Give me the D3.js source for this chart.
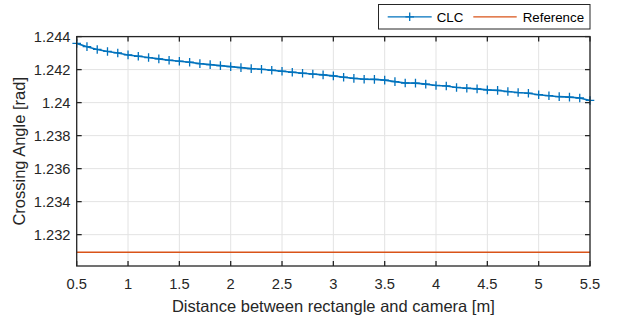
<!DOCTYPE html>
<html>
<head>
<meta charset="utf-8">
<script src="https://cdn.jsdelivr.net/npm/d3@7"></script>
<style>
  html, body { margin: 0; padding: 0; background: #ffffff; }
  svg { display: block; font-family: Arial, "Liberation Sans", Helvetica, sans-serif; }
</style>
</head>
<body>
<svg id="chart" width="621" height="322"></svg>
<script>
// Distance between rectangle and camera [m]
const distances = [
  0.5, 0.6, 0.7, 0.8, 0.9, 1.0, 1.1, 1.2, 1.3, 1.4,
  1.5, 1.6, 1.7, 1.8, 1.9, 2.0, 2.1, 2.2, 2.3, 2.4,
  2.5, 2.6, 2.7, 2.8, 2.9, 3.0, 3.1, 3.2, 3.3, 3.4,
  3.5, 3.6, 3.7, 3.8, 3.9, 4.0, 4.1, 4.2, 4.3, 4.4,
  4.5, 4.6, 4.7, 4.8, 4.9, 5.0, 5.1, 5.2, 5.3, 5.4, 5.5
];

// Crossing angle estimated by CLC [rad]
const clcAngle = [
  1.24359, 1.24339, 1.24322, 1.24310, 1.24301, 1.24289, 1.24281, 1.24273, 1.24265, 1.24257,
  1.24251, 1.24245, 1.24236, 1.24230, 1.24224, 1.24218, 1.24212, 1.24206, 1.24202, 1.24196,
  1.24190, 1.24184, 1.24178, 1.24173, 1.24168, 1.24162, 1.24154, 1.24147, 1.24142, 1.24141,
  1.24136, 1.24127, 1.24119, 1.24118, 1.24112, 1.24104, 1.24101, 1.24092, 1.24087, 1.24083,
  1.24077, 1.24074, 1.24067, 1.24061, 1.24057, 1.24048, 1.24042, 1.24036, 1.24033, 1.24028,
  1.24013
];

// Reference crossing angle [rad]
const referenceAngle = 1.23093;

const xTicks = [0.5, 1, 1.5, 2, 2.5, 3, 3.5, 4, 4.5, 5, 5.5];
const yTicks = [1.232, 1.234, 1.236, 1.238, 1.24, 1.242, 1.244];
const xDomain = [0.5, 5.5];
const yDomain = [1.2301, 1.244];

const seriesNames = ["CLC", "Reference"];
const colors = { clc: "#0072BD", ref: "#D95319" };

const svg = d3.select("#chart");
const plot = { left: 76.7, right: 590, top: 36.6, bottom: 266 };

const x = d3.scaleLinear().domain(xDomain).range([plot.left, plot.right]);
const y = d3.scaleLinear().domain(yDomain).range([plot.bottom, plot.top]);

const axisColor = "#262626";
const gridColor = "#e3e3e3";
const tickLen = 5;

// grid
const grid = svg.append("g");
grid.selectAll("line.gx").data(xTicks).join("line")
  .attr("x1", d => x(d)).attr("x2", d => x(d))
  .attr("y1", plot.top).attr("y2", plot.bottom)
  .attr("stroke", gridColor).attr("stroke-width", 1);
grid.selectAll("line.gy").data(yTicks).join("line")
  .attr("x1", plot.left).attr("x2", plot.right)
  .attr("y1", d => y(d)).attr("y2", d => y(d))
  .attr("stroke", gridColor).attr("stroke-width", 1);

// reference line
svg.append("line")
  .attr("x1", x(xDomain[0])).attr("x2", x(xDomain[1]))
  .attr("y1", y(referenceAngle)).attr("y2", y(referenceAngle))
  .attr("stroke", colors.ref).attr("stroke-width", 1.4);

// CLC line with plus markers
const pts = distances.map((d, i) => [d, clcAngle[i]]);
svg.append("path")
  .datum(pts)
  .attr("fill", "none")
  .attr("stroke", colors.clc)
  .attr("stroke-width", 1.6)
  .attr("d", d3.line().x(d => x(d[0])).y(d => y(d[1])));

const ms = 4.3;
svg.append("g").selectAll("path").data(pts).join("path")
  .attr("d", d => `M${x(d[0]) - ms},${y(d[1])}H${x(d[0]) + ms}M${x(d[0])},${y(d[1]) - ms}V${y(d[1]) + ms}`)
  .attr("stroke", colors.clc).attr("stroke-width", 1.3).attr("fill", "none");

// axes box and ticks (inward, on all four sides)
const axes = svg.append("g").attr("stroke", axisColor).attr("stroke-width", 1.3);
axes.append("rect")
  .attr("x", plot.left).attr("y", plot.top)
  .attr("width", plot.right - plot.left).attr("height", plot.bottom - plot.top)
  .attr("fill", "none");
xTicks.forEach(t => {
  axes.append("line").attr("x1", x(t)).attr("x2", x(t)).attr("y1", plot.bottom).attr("y2", plot.bottom - tickLen);
  axes.append("line").attr("x1", x(t)).attr("x2", x(t)).attr("y1", plot.top).attr("y2", plot.top + tickLen);
});
yTicks.forEach(t => {
  axes.append("line").attr("y1", y(t)).attr("y2", y(t)).attr("x1", plot.left).attr("x2", plot.left + tickLen);
  axes.append("line").attr("y1", y(t)).attr("y2", y(t)).attr("x1", plot.right).attr("x2", plot.right - tickLen);
});

// tick labels
const fmt = d => String(+d.toFixed(3));
svg.append("g").selectAll("text").data(xTicks).join("text")
  .attr("x", d => x(d)).attr("y", 288.5)
  .attr("text-anchor", "middle")
  .attr("font-size", "14.7px").attr("fill", axisColor)
  .text(fmt);
svg.append("g").selectAll("text").data(yTicks).join("text")
  .attr("x", 70.5).attr("y", d => y(d) + 5.2)
  .attr("text-anchor", "end")
  .attr("font-size", "14.7px").attr("fill", axisColor)
  .text(fmt);

// axis titles
svg.append("text")
  .attr("x", (plot.left + plot.right) / 2).attr("y", 311.5)
  .attr("text-anchor", "middle")
  .attr("font-size", "16.5px").attr("fill", axisColor)
  .text("Distance between rectangle and camera [m]");
svg.append("text")
  .attr("transform", `translate(24.5,${(plot.top + plot.bottom) / 2}) rotate(-90)`)
  .attr("text-anchor", "middle")
  .attr("font-size", "16.5px").attr("fill", axisColor)
  .text("Crossing Angle [rad]");

// legend
const lg = svg.append("g");
lg.append("rect")
  .attr("x", 378.5).attr("y", 4.5).attr("width", 211.5).attr("height", 24.5)
  .attr("fill", "#ffffff").attr("stroke", axisColor).attr("stroke-width", 1);
const ly = 16.8;
lg.append("line").attr("x1", 387.7).attr("x2", 431.7).attr("y1", ly).attr("y2", ly)
  .attr("stroke", colors.clc).attr("stroke-width", 1.3);
lg.append("path")
  .attr("d", `M${409.7 - ms},${ly}H${409.7 + ms}M409.7,${ly - ms}V${ly + ms}`)
  .attr("stroke", colors.clc).attr("stroke-width", 1.3);
lg.append("text").attr("x", 436.7).attr("y", ly + 4.8)
  .attr("font-size", "13.3px").attr("fill", "#000000").text(seriesNames[0]);
lg.append("line").attr("x1", 473.3).attr("x2", 516.7).attr("y1", ly).attr("y2", ly)
  .attr("stroke", colors.ref).attr("stroke-width", 1.3);
lg.append("text").attr("x", 522.7).attr("y", ly + 4.8)
  .attr("font-size", "13.3px").attr("fill", "#000000").text(seriesNames[1]);
</script>
</body>
</html>
